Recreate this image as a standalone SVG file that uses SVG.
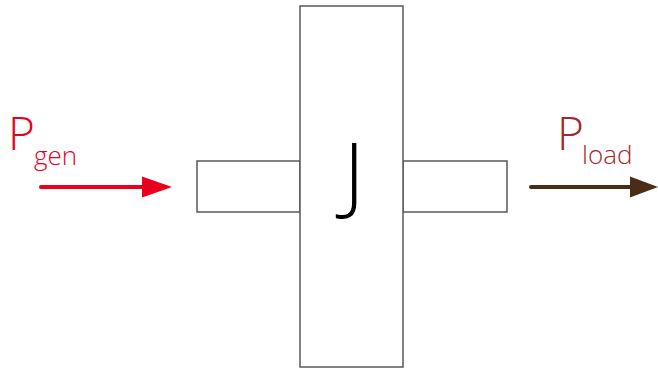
<svg xmlns="http://www.w3.org/2000/svg" width="658" height="370" viewBox="0 0 658 370">
<style>
.box{fill:#fff;stroke:#595959;stroke-width:1.5}
.lbl{font-family:"Open Sans","Noto Sans",sans-serif;font-weight:300}
</style>
<rect width="658" height="370" fill="#fff"/>
<g id="connectors">
<line x1="41" y1="187" x2="145" y2="187" stroke="#e8001c" stroke-width="4" stroke-linecap="round"/>
<path d="M142,176.5 L172,187 L142,197.5 z" fill="#e8001c"/>
<line x1="531" y1="187" x2="632" y2="187" stroke="#4a2c17" stroke-width="4" stroke-linecap="round"/>
<path d="M630,176.5 L658,187 L630,197.5 z" fill="#4a2c17"/>
</g>
<g id="left-shaft"><rect class="box" x="197" y="161" width="103" height="51"/></g>
<g id="right-shaft"><rect class="box" x="403" y="161" width="104" height="51"/></g>
<g id="inertia"><rect class="box" x="300" y="6" width="103" height="361"/>
<text class="lbl" x="354" y="204" font-size="85" text-anchor="middle" fill="#000">J</text></g>
<g id="pgen"><text class="lbl" x="8" y="150" font-size="46" fill="#e8001c">P</text>
<text class="lbl" x="34" y="165" font-size="26" fill="#e8001c">gen</text></g>
<g id="pload"><text class="lbl" x="557" y="150" font-size="46" fill="#a5262b">P</text>
<text class="lbl" x="582" y="164" font-size="26" fill="#a5262b">load</text></g>
</svg>
